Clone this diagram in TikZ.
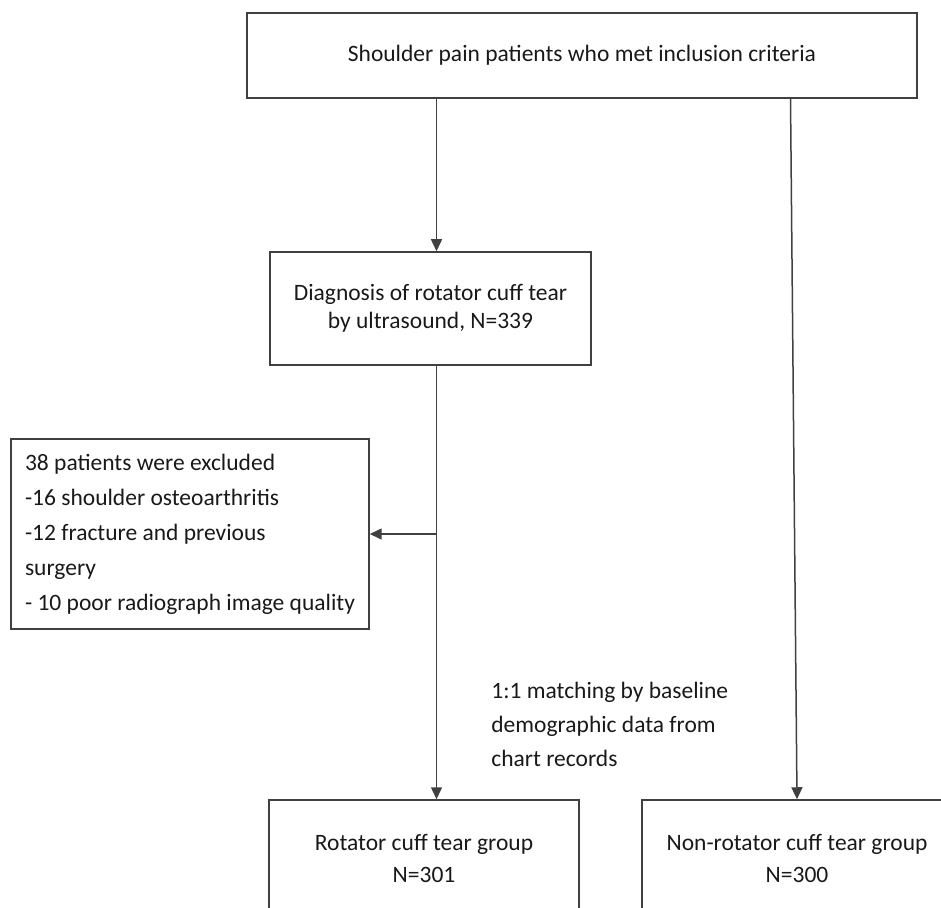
\documentclass[tikz,border=0pt]{standalone}
\usepackage{fontspec}
\setmainfont{Carlito}
\usetikzlibrary{arrows.meta}

\begin{document}
\begin{tikzpicture}[
  x=0.5pt, y=-0.5pt,
  box/.style={draw=black!75,line width=0.75pt,rectangle,inner sep=0pt,align=center,text=black!90},
  arr/.style={draw=black!75,line width=0.75pt,-{Triangle[length=6pt,width=5.5pt]}}
]
  \useasboundingbox (0,0) rectangle (941,908);

  % boxes
  \node[box,minimum width=335pt,minimum height=42.5pt,font=\fontsize{11.75}{14}\selectfont] (incl) at (582,55.5) {Shoulder pain patients who met inclusion criteria};
  \node[box,minimum width=160.5pt,minimum height=56.5pt,font=\fontsize{11.75}{14}\selectfont] (diag) at (430.5,308.5) {Diagnosis of rotator cuff tear\\by ultrasound, N=339};
  \node[box,align=left,inner xsep=7pt,minimum height=95pt,font=\fontsize{11.75}{17.5}\selectfont] (excl) at (190,534) {38 patients were excluded\\-16 shoulder osteoarthritis\\-12 fracture and previous\\surgery\\- 10 poor radiograph image quality};
  \node[box,minimum width=155pt,minimum height=58pt,font=\fontsize{11.75}{16}\selectfont] (rct) at (424,858) {Rotator cuff tear group\\N=301};
  \node[box,minimum width=155pt,minimum height=58pt,font=\fontsize{11.75}{16}\selectfont] (nrct) at (797,858) {Non-rotator cuff tear group\\N=300};

  % label
  \node[anchor=west,inner sep=0pt,align=left,text=black!90,font=\fontsize{11.75}{17}\selectfont] (match) at (491,724) {1:1 matching by baseline\\demographic data from\\chart records};

  % line positions
  \coordinate (lx) at (436.5,0);
  \coordinate (rx) at (790.5,0);

  % edges
  \draw[arr] (incl.south -| lx) -- (diag.north -| lx);
  \draw[arr] (incl.south -| rx) -- (nrct.north);
  \draw[arr] (diag.south -| lx) -- (rct.north -| lx);
  \draw[arr] (excl.east -| lx) -- (excl.east);
\end{tikzpicture}
\end{document}
